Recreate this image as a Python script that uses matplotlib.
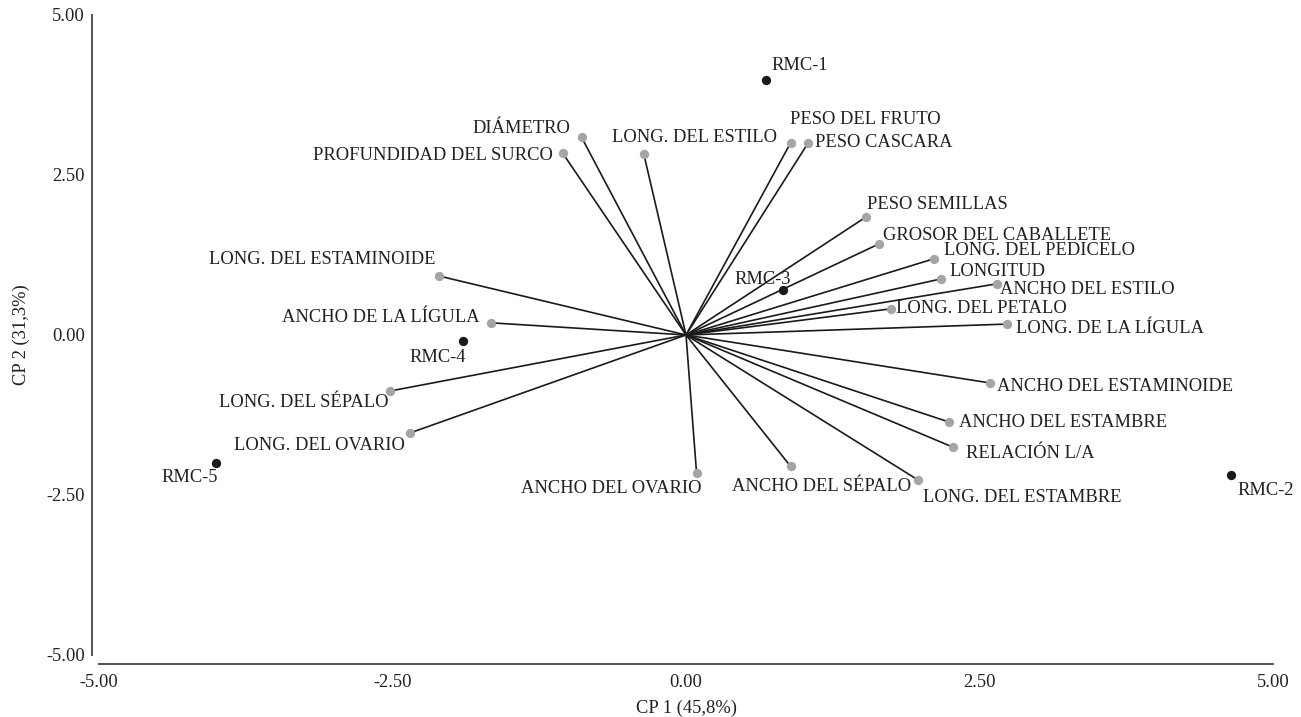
import matplotlib
matplotlib.use("Agg")
import matplotlib.pyplot as plt

plt.rcParams['font.family'] = ['Liberation Serif', 'DejaVu Serif']

# variable loadings (gray points joined to the origin)
var_names = ["DIÁMETRO", "PROFUNDIDAD DEL SURCO", "LONG. DEL ESTILO", "PESO DEL FRUTO",
             "PESO CASCARA", "PESO SEMILLAS", "GROSOR DEL CABALLETE", "LONG. DEL PEDICELO",
             "LONGITUD", "ANCHO DEL ESTILO", "LONG. DEL PETALO", "LONG. DE LA LÍGULA",
             "ANCHO DEL ESTAMINOIDE", "ANCHO DEL ESTAMBRE", "RELACIÓN L/A", "LONG. DEL ESTAMBRE",
             "ANCHO DEL SÉPALO", "ANCHO DEL OVARIO", "LONG. DEL OVARIO", "LONG. DEL SÉPALO",
             "ANCHO DE LA LÍGULA", "LONG. DEL ESTAMINOIDE"]
var_x = [-0.89, -1.05, -0.36, 0.89, 1.04, 1.53, 1.64, 2.11, 2.17, 2.65, 1.75, 2.73,
         2.59, 2.24, 2.27, 1.98, 0.89, 0.09, -2.35, -2.52, -1.66, -2.10]
var_y = [3.09, 2.84, 2.83, 3.00, 3.00, 1.84, 1.42, 1.19, 0.875, 0.80, 0.41, 0.17,
         -0.75, -1.36, -1.75, -2.27, -2.05, -2.16, -1.53, -0.875, 0.19, 0.92]

# sample scores (black points)
obs_names = ["RMC-1", "RMC-2", "RMC-3", "RMC-4", "RMC-5"]
obs_x = [0.68, 4.64, 0.83, -1.90, -4.00]
obs_y = [3.98, -2.19, 0.70, -0.09, -2.00]

# label placement: (dx, dy in pixels, horizontal alignment)
var_lab = [(-11, 9, 'right'), (-10, -2, 'right'), (-32, 16, 'left'), (-1, 23, 'left'),
           (7, 0, 'left'), (1, 13, 'left'), (4, 9, 'left'), (10, 8, 'left'),
           (9, 7, 'left'), (3, -6, 'left'), (5, 0, 'left'), (9, -4, 'left'),
           (7, -4, 'left'), (10, 0, 'left'), (13, -7, 'left'), (5, -17, 'left'),
           (-59, -20, 'left'), (5, -15, 'right'), (-5, -13, 'right'), (-2, -12, 'right'),
           (-12, 5, 'right'), (-4, 17, 'right')]
obs_lab = [(6, 15, 'left'), (7, -15, 'left'), (7, 11, 'right'), (3, -17, 'right'), (2, -15, 'right')]

fig = plt.figure(figsize=(13.01, 7.17), dpi=100)
ax = fig.add_axes([0.0761, 0.0865, 0.9024, 0.8926])

for x, y in zip(var_x, var_y):
    ax.plot([0, x], [0, y], color='#1a1a1a', lw=1.2, zorder=1)
ax.scatter(var_x, var_y, s=45, color='#a5a5a5', zorder=3, linewidths=0)
ax.scatter(obs_x, obs_y, s=45, color='#1a1a1a', zorder=3, linewidths=0)

fs = 13.3
for name, x, y, (dx, dy, ha) in zip(var_names, var_x, var_y, var_lab):
    ax.annotate(name, (x, y), xytext=(dx, dy), textcoords='offset pixels',
                ha=ha, va='center', fontsize=fs, color='#231f20')
for name, x, y, (dx, dy, ha) in zip(obs_names, obs_x, obs_y, obs_lab):
    ax.annotate(name, (x, y), xytext=(dx, dy), textcoords='offset pixels',
                ha=ha, va='center', fontsize=fs, color='#231f20')

ax.set_xlim(-5, 5)
ax.set_ylim(-5, 5)
ticks = [-5, -2.5, 0, 2.5, 5]
ax.set_xticks(ticks)
ax.set_yticks(ticks)
ax.set_xticklabels(["%.2f" % t for t in ticks])
ax.set_yticklabels(["%.2f" % t for t in ticks])
ax.tick_params(length=0, labelsize=fs, colors='#231f20')
ax.tick_params(axis='y', pad=5)
ax.tick_params(axis='x', pad=7.5)

for s in ['top', 'right']:
    ax.spines[s].set_visible(False)
ax.spines['left'].set_position(('outward', 5))
ax.spines['bottom'].set_position(('outward', 6.5))
for s in ['left', 'bottom']:
    ax.spines[s].set_color('#444444')
    ax.spines[s].set_linewidth(1.3)

ax.set_xlabel("CP 1 (45,8%)", fontsize=fs, color='#231f20', labelpad=6)
ax.set_ylabel("CP 2 (31,3%)", fontsize=fs, color='#231f20', labelpad=12)

fig.savefig("out.png", dpi=100)
